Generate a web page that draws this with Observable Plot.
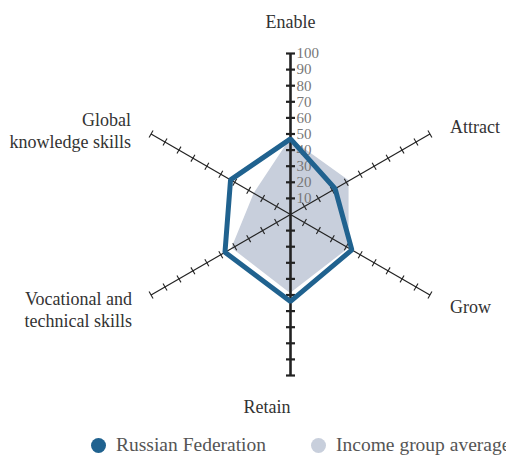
<!DOCTYPE html>
<html>
<head>
<meta charset="utf-8">
<script src="https://cdn.jsdelivr.net/npm/d3@7"></script>
<script src="https://cdn.jsdelivr.net/npm/@observablehq/plot@0.6"></script>
<style>
  html, body { margin: 0; padding: 0; background: #fff; overflow: hidden; width: 506px; height: 455px; }
  #legend { height: 30px; display: flex; align-items: center; white-space: nowrap; font-family: "Liberation Serif", serif; font-size: 19.5px; color: #555; padding-left: 91px; }
  .sw { display: inline-block; width: 15px; height: 15px; border-radius: 50%; margin-right: 10px; }
  .item { display: flex; align-items: center; margin-right: 45px; }
</style>
</head>
<body>
<div id="chart"></div>
<div id="legend"></div>
<script>
// ---- data ----
const axisNames = ["Enable", "Attract", "Grow", "Retain", "Vocational and technical skills", "Global knowledge skills"];
const axisLabels = ["Enable", "Attract", "Grow", "Retain", "Vocational and\ntechnical skills", "Global\nknowledge skills"];
const russia = [47, 32, 44, 54, 47, 43];
const incomeAvg = [47, 42, 42, 49, 42, 26];
const tickValues = [10, 20, 30, 40, 50, 60, 70, 80, 90, 100];
const seriesNames = ["Russian Federation", "Income group average"];

// ---- layout ----
const W = 506, H = 430, cx = 290, cy = 214, S = 1.61; // px per unit
const angles = [90, 30, -30, -90, -150, 150];
const labelLayout = [
  {dx: 0, dy: -33, anchor: "middle"},
  {dx: 20, dy: -8.5, anchor: "start"},
  {dx: 20, dy: 10.5, anchor: "start"},
  {dx: 0, dy: 30, anchor: "end"},
  {dx: -19, dy: 13.5, anchor: "end"},
  {dx: -20, dy: -4.5, anchor: "end"}
];
const blue = "#20628f", grey = "#c8cfdc";

const rad = a => a * Math.PI / 180;
const pt = (i, v) => [v * Math.cos(rad(angles[i])), v * Math.sin(rad(angles[i]))];

const polyData = (vals) => vals.map((v, i) => { const [x, y] = pt(i, v); return {axis: axisNames[i], x, y}; });
const russiaPts = polyData(russia);
const avgPts = polyData(incomeAvg);

const axisLines = axisNames.map((name, i) => { const [x, y] = pt(i, 100); return {name, i, x, y, vertical: angles[i] === 90 || angles[i] === -90}; });

const ticks = [];
axisNames.forEach((name, i) => {
  const vertical = angles[i] === 90 || angles[i] === -90;
  const h = (vertical ? 4.5 : 4) / S;
  const a = rad(angles[i]);
  tickValues.forEach(v => {
    const [x, y] = pt(i, v);
    ticks.push({vertical, x1: x - Math.sin(a) * h, y1: y + Math.cos(a) * h, x2: x + Math.sin(a) * h, y2: y - Math.cos(a) * h});
  });
});

const enableIdx = 0;
const tickLabels = tickValues.map(v => { const [x, y] = pt(enableIdx, v); return {v, x, y}; });

const labelMarks = axisNames.map((name, i) => {
  const [x, y] = pt(i, 100);
  const L = labelLayout[i];
  return Plot.text([{label: axisLabels[i], x, y}], {
    x: "x", y: "y", text: "label", dx: L.dx, dy: L.dy, textAnchor: L.anchor,
    fontSize: 18, fill: "#333", lineHeight: 1.22, fontFamily: "Liberation Serif"
  });
});

const chart = Plot.plot({
  width: W, height: H,
  margin: 0,
  x: {domain: [-cx / S, (W - cx) / S], range: [0, W], axis: null},
  y: {domain: [(cy - H) / S, cy / S], range: [H, 0], axis: null},
  style: {fontFamily: "Liberation Serif", background: "#fff"},
  marks: [
    Plot.area(avgPts, {x1: "x", y1: "y", x2: 0, y2: 0, curve: "linear-closed", fill: grey, fillOpacity: 1}),
    Plot.link(axisLines.filter(d => !d.vertical), {x1: 0, y1: 0, x2: "x", y2: "y", stroke: "#222", strokeWidth: 1.2}),
    Plot.link(axisLines.filter(d => d.vertical), {x1: 0, y1: 0, x2: "x", y2: "y", stroke: "#222", strokeWidth: 2.6}),
    Plot.link(ticks.filter(d => !d.vertical), {x1: "x1", y1: "y1", x2: "x2", y2: "y2", stroke: "#222", strokeWidth: 1.1}),
    Plot.link(ticks.filter(d => d.vertical), {x1: "x1", y1: "y1", x2: "x2", y2: "y2", stroke: "#222", strokeWidth: 2.2}),
    Plot.text(tickLabels, {x: "x", y: "y", text: d => String(d.v), dx: 6, textAnchor: "start", fill: "#777", fontSize: 15, fontFamily: "Liberation Serif"}),
    Plot.line(russiaPts, {x: "x", y: "y", curve: "linear-closed", stroke: blue, strokeWidth: 5, strokeLinejoin: "miter"}),
    ...labelMarks
  ]
});
document.getElementById("chart").appendChild(chart);

const colors = [blue, grey];
const legend = document.getElementById("legend");
seriesNames.forEach((n, i) => {
  const item = document.createElement("div");
  item.className = "item";
  item.innerHTML = `<span class="sw" style="background:${colors[i]}"></span><span>${n}</span>`;
  legend.appendChild(item);
});
</script>
</body>
</html>
